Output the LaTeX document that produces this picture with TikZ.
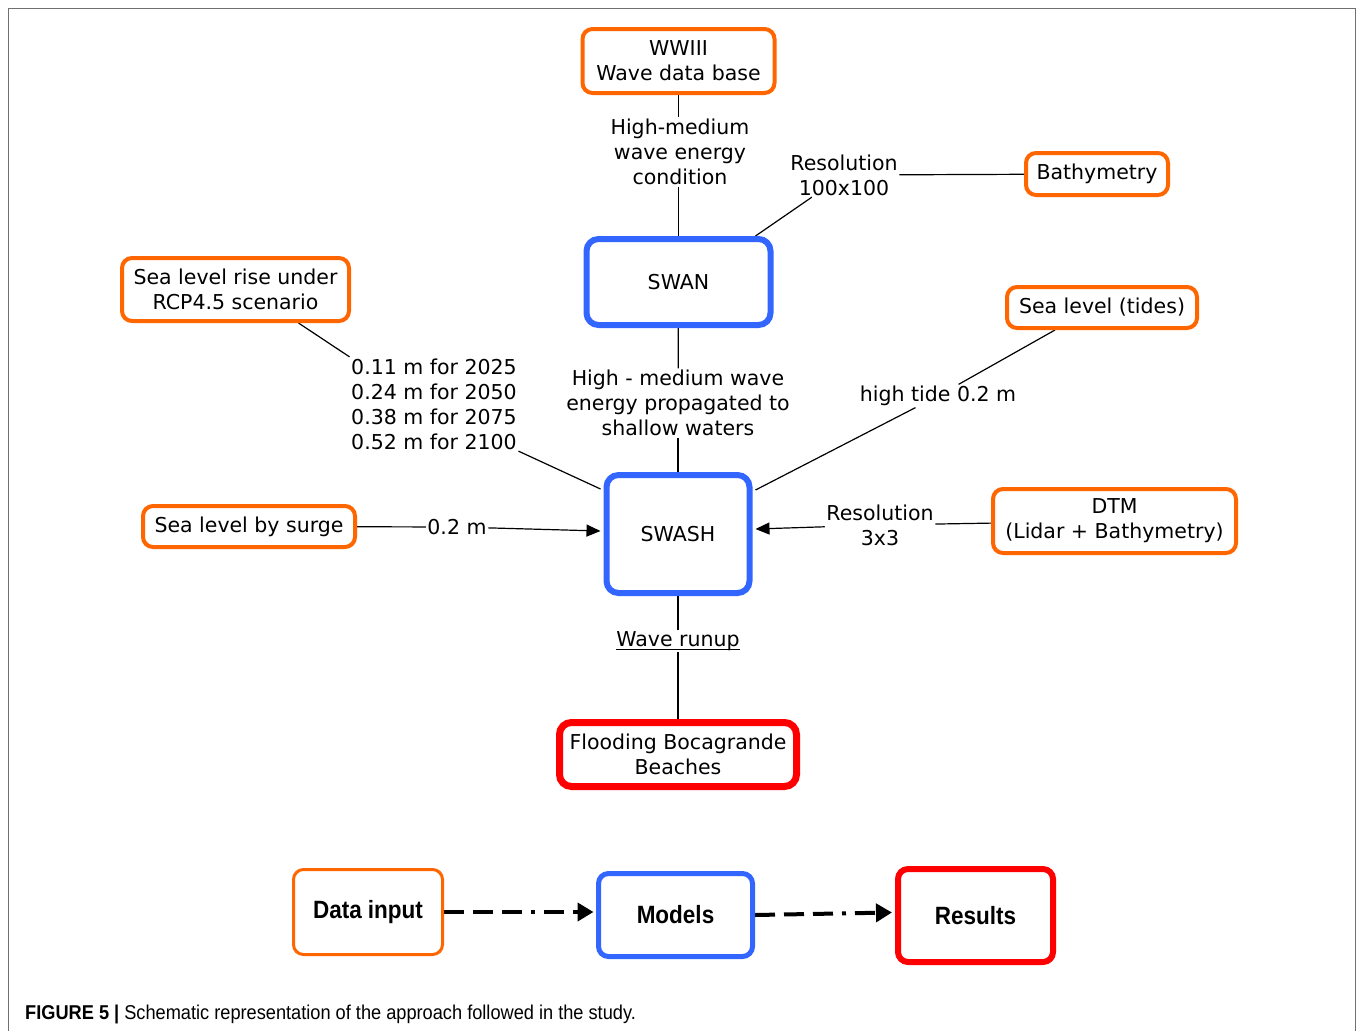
\documentclass[tikz,border=0pt]{standalone}
\usepackage{fontspec}
\setmainfont{DejaVu Sans}
\newfontfamily\legfam[FakeStretch=0.9]{Liberation Sans}
\newfontfamily\capfam[FakeStretch=0.91]{Liberation Sans}
\usetikzlibrary{arrows.meta,calc,backgrounds}
\definecolor{borange}{HTML}{FF6600}
\definecolor{bblue}{HTML}{3366FF}
\definecolor{bred}{HTML}{FF0000}
\definecolor{framegray}{HTML}{707070}
\newcommand\dgfont{\fontsize{20.5}{25}\selectfont}
\newcommand\lgfont{\legfam\bfseries\fontsize{25}{30}\selectfont}
\newcommand\cpfont{\capfam\fontsize{20}{24}\selectfont}
\tikzset{
  box/.style={draw, rounded corners=10pt, align=center, inner sep=0pt, font=\dgfont},
  databox/.style={box, draw=borange, line width=4pt},
  modelbox/.style={box, draw=bblue, line width=6pt, rounded corners=12pt},
  resultbox/.style={box, draw=bred, line width=7pt, rounded corners=12pt},
  lab/.style={align=center, inner sep=1.5pt, font=\dgfont},
  link/.style={draw=black, line width=1.2pt},
  arr/.style={link, -{Triangle[length=14pt,width=12pt]}},
  legarrow/.style={draw=black, line width=4pt, dash pattern=on 20pt off 9pt on 20pt off 9pt on 20pt off 9pt on 4pt off 9pt, -{Triangle[length=16pt,width=18pt]}},
}
\begin{document}
\begin{tikzpicture}[x=1pt,y=-1pt]
\useasboundingbox (0,0) rectangle (1358,1031);
\draw[framegray, line width=1.5pt] (8.5,1031) -- (8.5,8.5) -- (1355.5,8.5) -- (1355.5,1031);

% boxes
\node[databox, minimum width=192pt, minimum height=64pt] (wwiii) at (678.5,61) {WWIII\\Wave data base};
\node[databox, minimum width=142pt, minimum height=42pt] (bathy) at (1097,174) {Bathymetry};
\node[modelbox, minimum width=184pt, minimum height=86pt] (swan) at (678.5,282) {SWAN};
\node[databox, minimum width=227pt, minimum height=63pt] (slr) at (235.5,289.5) {Sea level rise under\\RCP4.5 scenario};
\node[databox, minimum width=190pt, minimum height=41pt] (tides) at (1102,307.5) {Sea level (tides)};
\node[modelbox, minimum width=143pt, minimum height=118pt] (swash) at (678,534) {SWASH};
\node[databox, minimum width=212pt, minimum height=41pt] (surge) at (249,526.5) {Sea level by surge};
\node[databox, minimum width=243pt, minimum height=64pt] (dtm) at (1114.5,521) {DTM\\(Lidar + Bathymetry)};
\node[resultbox, minimum width=237pt, minimum height=64pt] (flood) at (678,754.5) {Flooding Bocagrande\\Beaches};

% labels
\node[lab] (hm) at (680,152) {High-medium\\wave energy\\condition};
\node[lab] (res1) at (844,175) {Resolution\\100x100};
\node[lab] (hmp) at (678,403) {High - medium wave\\energy propagated to\\shallow waters};
\node[lab, align=left] (slrl) at (434,404) {0.11 m for 2025\\0.24 m for 2050\\0.38 m for 2075\\0.52 m for 2100};
\node[lab] (tidel) at (938,396) {high tide 0.2 m};
\node[lab] (surgel) at (457,527) {0.2 m};
\node[lab] (res3) at (880,525) {Resolution\\3x3};
\node[lab] (wr) at (678,641) {Wave runup};

% legend
\node[box, draw=borange, line width=3pt, minimum width=149pt, minimum height=85pt, font=\lgfont] (din) at (368,912) {Data input};
\node[box, draw=bblue, line width=5pt, minimum width=154pt, minimum height=83pt, font=\lgfont] (models) at (675.5,915) {Models};
\node[box, draw=bred, line width=6pt, minimum width=155pt, minimum height=93pt, font=\lgfont] (results) at (975.5,915.5) {Results};

\node[anchor=base west, inner sep=0pt, font=\cpfont] (cap) at (25,1019) {\textbf{FIGURE 5 |} Schematic representation of the approach followed in the study.};

\begin{scope}[on background layer]
\draw[link] (wwiii.south) -- (wwiii.south |- hm.north);
\draw[link] (wwiii.south |- hm.south) -- (swan.north);
\draw[link] ($(swan.north east)+(-18,0)$) -- (res1);
\draw[link] (res1) -- (bathy);
\draw[link] (swan) -- (hmp);
\draw[link] (hmp) -- (swash);
\draw[link] ($(slr.south)+(63,0)$) -- (slrl.north west);
\draw[link] (slrl.south east) -- ($(swash.north west)+(-3,17)$);
\draw[link] ($(tides.south west)+(50,0)$) -- (tidel);
\draw[link] (tidel) -- ($(swash.north east)+(3,18)$);
\draw[link] (surge) -- (surgel);
\draw[arr] (surgel) -- ($(swash.west)+(-3,-3)$);
\draw[link] (dtm) -- (res3);
\draw[arr] (res3) -- ($(swash.east)+(3,-5)$);
\draw[link] (swash) -- (wr);
\draw[link] (wr) -- (flood);
\draw[legarrow] (din.east) -- ($(din.east -| models.west)+(-2.5,0)$);
\draw[legarrow] (models.east) -- ($(results.west)+(-3,-3)$);
\end{scope}
\draw[line width=1.2pt] ($(wr.base west)+(1.5,3)$) -- ($(wr.base east)+(-1.5,3)$);
\end{tikzpicture}
\end{document}
